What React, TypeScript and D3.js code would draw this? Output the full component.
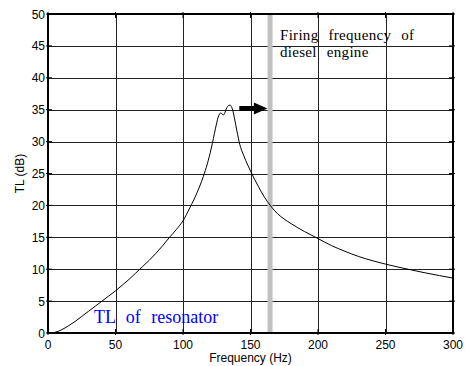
import React from "react";
import * as d3 from "d3";

const freqHz = [0, 5, 10, 15, 20, 25, 30, 35, 40, 45, 50, 55, 60, 65, 70, 75, 80, 85, 90, 95, 100, 105, 110, 115, 118, 121, 124, 126, 127, 128, 129, 130, 131, 132, 133, 134, 135, 136, 137, 138, 140, 142, 145, 148, 150, 153, 156, 160, 165, 170, 175, 180, 185, 190, 195, 200, 210, 220, 230, 240, 250, 260, 270, 280, 290, 300];
const tlDb = [0, 0.1, 0.5, 1.1, 1.8, 2.6, 3.4, 4.2, 5.0, 5.8, 6.6, 7.5, 8.4, 9.4, 10.4, 11.4, 12.5, 13.7, 15.0, 16.2, 17.6, 19.6, 21.8, 24.5, 26.5, 29.0, 32.0, 33.8, 34.3, 34.5, 34.3, 34.2, 34.5, 35.1, 35.5, 35.7, 35.7, 35.4, 34.8, 33.8, 31.6, 29.6, 27.8, 26.3, 25.4, 24.1, 22.9, 21.4, 19.9, 18.7, 17.85, 17.15, 16.5, 15.9, 15.35, 14.8, 13.7, 12.8, 12.0, 11.35, 10.8, 10.3, 9.85, 9.4, 9.0, 8.6];

const xTicks = [0, 50, 100, 150, 200, 250, 300];
const yTicks = [0, 5, 10, 15, 20, 25, 30, 35, 40, 45, 50];

const firingFreq = 164.5;
const arrowStartHz = 141.7;
const arrowHeadHz = 152.5;
const arrowTipHz = 162.5;
const arrowDb = 35.2;

const xLabel = "Frequency (Hz)";
const yLabel = "TL (dB)";
const firingLabel = ["Firing frequency of", "diesel engine"];
const curveLabel = "TL of resonator";

export default function App() {
  const W = 471, H = 366;
  const L = 48, T = 14, R = 453, B = 333;
  const x = d3.scaleLinear().domain([0, 300]).range([L, R]);
  const y = d3.scaleLinear().domain([0, 50]).range([B, T]);
  const pts: [number, number][] = freqHz.map((f, i) => [f, tlDb[i]]);
  const line = d3.line<[number, number]>().x(d => x(d[0])).y(d => y(d[1])).curve(d3.curveMonotoneX);

  const ay = y(arrowDb);
  const arrowPath = `M${x(arrowStartHz)},${ay - 2.5} L${x(arrowHeadHz)},${ay - 2.5} L${x(arrowHeadHz)},${ay - 6} L${x(arrowTipHz)},${ay} L${x(arrowHeadHz)},${ay + 6} L${x(arrowHeadHz)},${ay + 2.5} L${x(arrowStartHz)},${ay + 2.5} Z`;

  const sans = "Arial, 'Liberation Sans', Helvetica, sans-serif";
  const serif = "'Times New Roman', 'Liberation Serif', serif";

  return (
    <svg width={W} height={H} style={{ position: "absolute", left: 0, top: 0, background: "#fff" }}>
      <rect x={0} y={0} width={W} height={H} fill="#fff" />
      {xTicks.slice(1, -1).map(t => (
        <line key={"gx" + t} x1={Math.round(x(t)) + 0.5} x2={Math.round(x(t)) + 0.5} y1={T} y2={B} stroke="#222" strokeWidth={1} />
      ))}
      {yTicks.slice(1, -1).map(t => (
        <line key={"gy" + t} x1={L} x2={R} y1={Math.round(y(t)) + 0.5} y2={Math.round(y(t)) + 0.5} stroke="#222" strokeWidth={1} />
      ))}
      <rect x={x(firingFreq) - 2.5} y={T} width={5} height={B - T} fill="#c0c0c0" />
      <path d={line(pts) || ""} fill="none" stroke="#000" strokeWidth={1} />
      <path d={arrowPath} fill="#000" />
      <rect x={L} y={T} width={R - L} height={B - T} fill="none" stroke="#000" strokeWidth={2} />
      {yTicks.map(t => (
        <g key={"ty" + t}>
          <line x1={L - 2} x2={L + 4} y1={y(t)} y2={y(t)} stroke="#000" />
          <line x1={R - 4} x2={R + 2} y1={y(t)} y2={y(t)} stroke="#000" />
          <text x={L - 3} y={y(t) + 4.5} textAnchor="end" fontFamily={sans} fontSize={12}>{t}</text>
        </g>
      ))}
      {xTicks.map(t => (
        <g key={"tx" + t}>
          <line x1={x(t)} x2={x(t)} y1={B + 2} y2={B - 4} stroke="#000" />
          <line x1={x(t)} x2={x(t)} y1={T - 2} y2={T + 4} stroke="#000" />
          <text x={x(t)} y={B + 15.5} textAnchor="middle" fontFamily={sans} fontSize={12}>{t}</text>
        </g>
      ))}
      <text x={(L + R) / 2} y={362} textAnchor="middle" fontFamily={sans} fontSize={12}>{xLabel}</text>
      <text transform={`translate(24,${(T + B) / 2}) rotate(-90)`} textAnchor="middle" fontFamily={sans} fontSize={12}>{yLabel}</text>
      <text x={280} y={40} fontFamily={serif} fontSize={15} wordSpacing={6} letterSpacing={0.3}>{firingLabel[0]}</text>
      <text x={280} y={57} fontFamily={serif} fontSize={15} wordSpacing={6} letterSpacing={0.3}>{firingLabel[1]}</text>
      <text x={94} y={323} fontFamily={serif} fontSize={18} fill="#0000ff" wordSpacing={6}>{curveLabel}</text>
    </svg>
  );
}
